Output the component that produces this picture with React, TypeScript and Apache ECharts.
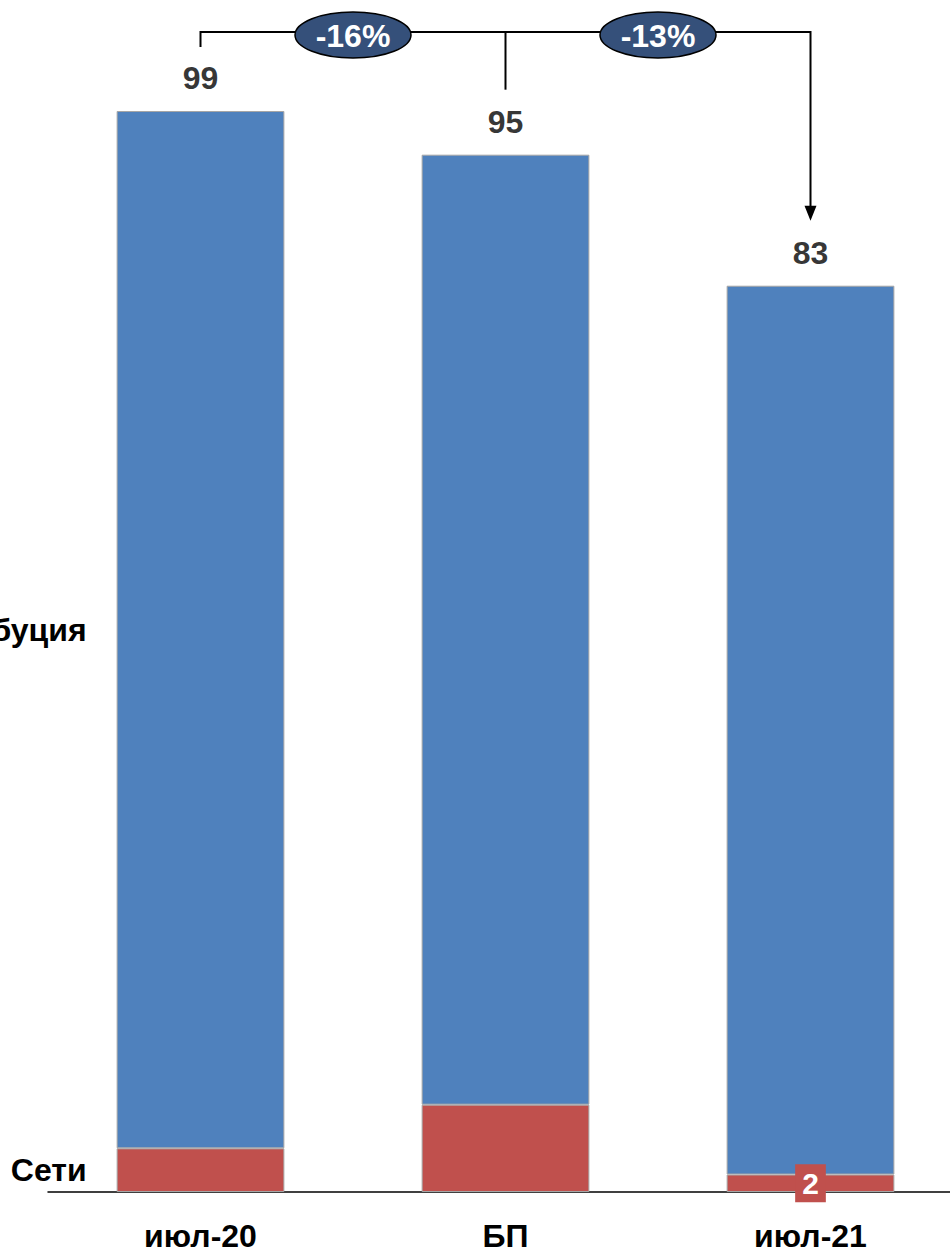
import React, { useEffect, useRef } from "react";
import * as echarts from "echarts";

const categories = ["июл-20", "БП", "июл-21"];
const distribution = [95, 87, 81.4];
const networks = [4, 8, 1.6];
const totals = [99, 95, 83];
const changeLabels = ["-16%", "-13%"];

const FONT = "'Liberation Sans', Arial, sans-serif";
const BLUE = "#4F81BD";
const RED = "#C0504D";

export default function App() {
  const ref = useRef<HTMLDivElement>(null);
  useEffect(() => {
    if (!ref.current) return;
    const chart = echarts.init(ref.current, undefined, { renderer: "svg" });
    const leftLabel = {
      show: true,
      position: "left",
      distance: 30,
      formatter: "{a}",
      color: "#000",
      fontSize: 32,
      fontWeight: "bold",
      fontFamily: FONT,
    };
    chart.setOption({
      animation: false,
      grid: { left: 48, top: 111, width: 915, height: 1081 },
      xAxis: {
        type: "category",
        data: categories,
        axisTick: { show: false },
        axisLine: { show: true, lineStyle: { color: "#000", width: 1.5 } },
        axisLabel: {
          color: "#000",
          fontSize: 32,
          fontWeight: "bold",
          fontFamily: FONT,
          margin: 28,
        },
      },
      yAxis: { type: "value", min: 0, max: 99, show: false, splitLine: { show: false } },
      series: [
        {
          name: "Сети",
          type: "bar",
          stack: "a",
          barWidth: "55%",
          itemStyle: { color: RED, borderColor: "#a6a6a6", borderWidth: 1 },
          label: { show: false },
          data: networks.map((v, i) => {
            if (i === 0) return { value: v, label: leftLabel };
            if (i === networks.length - 1)
              return {
                value: v,
                label: {
                  show: true,
                  position: "inside",
                  formatter: (p: any) => String(Math.round(p.value)),
                  color: "#fff",
                  fontSize: 30,
                  fontWeight: "bold",
                  fontFamily: FONT,
                  backgroundColor: RED,
                  padding: [5, 7, 3, 7],
                },
              };
            return v;
          }),
        },
        {
          name: "Дистрибуция",
          type: "bar",
          stack: "a",
          barWidth: "55%",
          itemStyle: { color: BLUE, borderColor: "#a6a6a6", borderWidth: 1 },
          label: { show: false },
          data: distribution.map((v, i) => (i === 0 ? { value: v, label: leftLabel } : v)),
        },
        {
          name: "Итого",
          type: "scatter",
          symbolSize: 0,
          silent: true,
          data: totals,
          label: {
            show: true,
            position: "top",
            distance: 17,
            color: "#000",
            fontSize: 32,
            fontWeight: "bold",
            fontFamily: FONT,
          },
        },
      ],
    });

    const xs = categories.map((c) => chart.convertToPixel({ xAxisIndex: 0 }, c) as number);
    const tops = totals.map((t) => chart.convertToPixel({ yAxisIndex: 0 }, t) as number);
    const yLine = 32;
    const tip = tops[2] - 65;
    const elements: any[] = [
      {
        type: "polyline",
        shape: {
          points: [
            [xs[0], tops[0] - 64],
            [xs[0], yLine],
            [xs[2], yLine],
            [xs[2], tip - 12],
          ],
        },
        style: { stroke: "#000", lineWidth: 2, fill: null },
        z: 1,
      },
      {
        type: "line",
        shape: { x1: xs[1], y1: yLine, x2: xs[1], y2: tops[1] - 65 },
        style: { stroke: "#000", lineWidth: 2 },
        z: 1,
      },
      {
        type: "polygon",
        shape: {
          points: [
            [xs[2] - 6, tip - 15],
            [xs[2] + 6, tip - 15],
            [xs[2], tip],
          ],
        },
        style: { fill: "#000" },
        z: 1,
      },
    ];
    changeLabels.forEach((txt, i) => {
      const cx = (xs[i] + xs[i + 1]) / 2;
      elements.push({
        type: "ellipse",
        shape: { cx, cy: 35, rx: 58, ry: 23 },
        style: { fill: "#35507A", stroke: "#000", lineWidth: 1.5 },
        z: 2,
      });
      elements.push({
        type: "text",
        x: cx,
        y: 36,
        style: {
          text: txt,
          align: "center",
          verticalAlign: "middle",
          fill: "#fff",
          fontSize: 32,
          fontWeight: "bold",
          fontFamily: FONT,
        },
        z: 3,
      });
    });
    chart.setOption({ graphic: { elements } });

    return () => chart.dispose();
  }, []);
  return (
    <div
      style={{
        position: "absolute",
        left: 0,
        top: 0,
        width: 950,
        height: 1254,
        overflow: "hidden",
        background: "#fff",
      }}
    >
      <div ref={ref} style={{ width: 970, height: 1254 }} />
    </div>
  );
}
